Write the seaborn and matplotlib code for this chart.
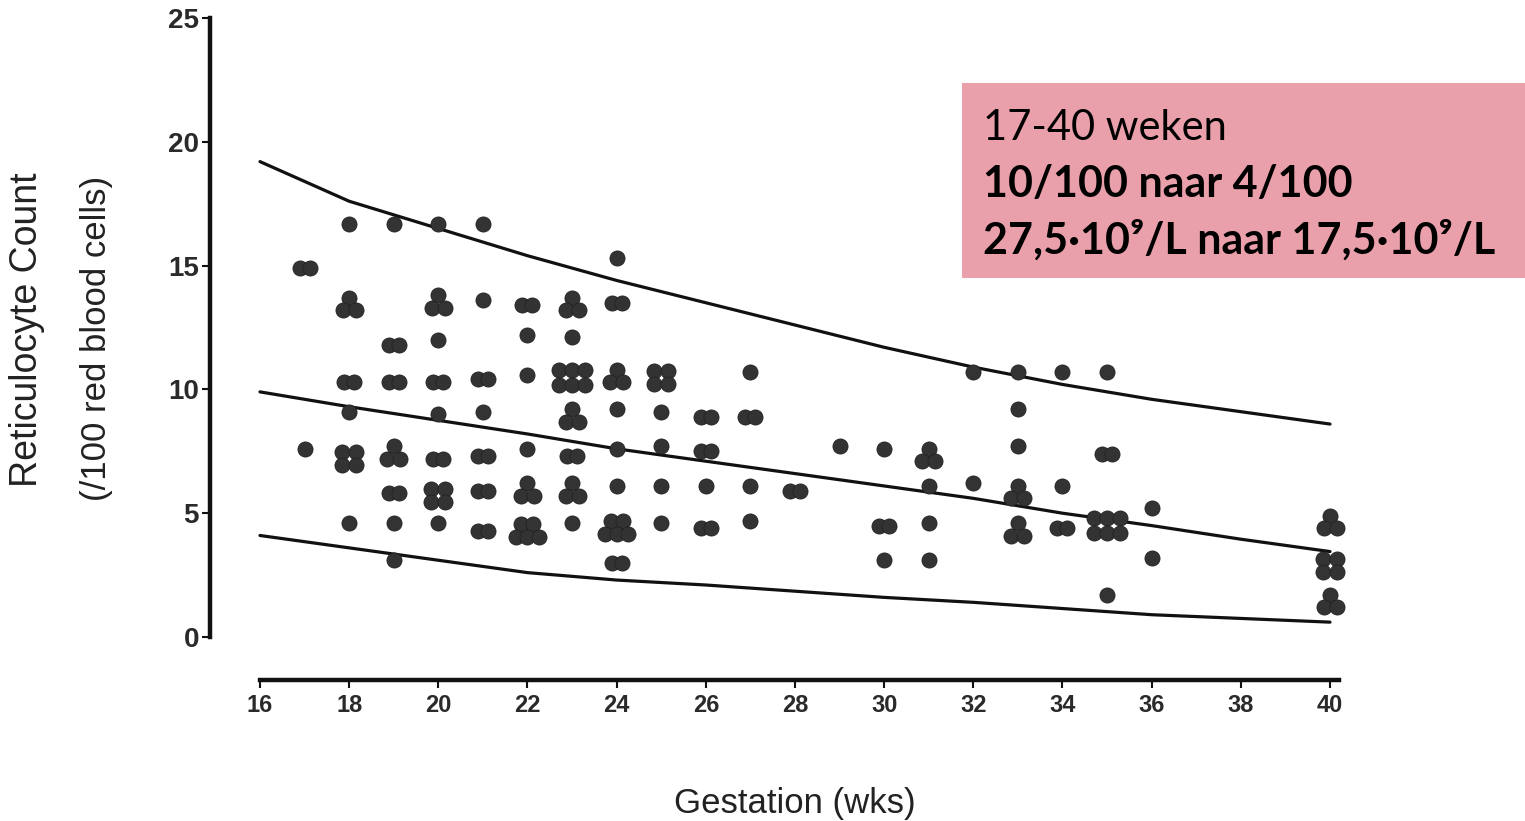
import numpy as np
import pandas as pd
import matplotlib
matplotlib.use("Agg")
import matplotlib.pyplot as plt
from matplotlib.patches import Rectangle
import seaborn as sns

# ---------------- data ----------------
# observed reticulocyte counts: gestational week, value, number of coincident observations
obs_week = [17, 17,
            18, 18, 18, 18, 18, 18,
            19, 19, 19, 19, 19, 19, 19,
            20, 20, 20, 20, 20, 20, 20, 20,
            21, 21, 21, 21, 21, 21, 21,
            22, 22, 22, 22, 22, 22,
            23, 23, 23, 23, 23, 23, 23,
            24, 24, 24, 24, 24, 24, 24, 24,
            25, 25, 25, 25, 25,
            26, 26, 26, 26,
            27, 27, 27, 27,
            28,
            29,
            30, 30, 30,
            31, 31, 31, 31,
            32, 32,
            33, 33, 33, 33, 33,
            34, 34, 34,
            35, 35, 35, 35,
            36, 36,
            40, 40, 40]
obs_value = [14.9, 7.6,
             16.7, 13.4, 10.3, 9.1, 7.2, 4.6,
             16.7, 11.8, 10.3, 7.4, 5.8, 4.6, 3.1,
             16.7, 13.5, 12.0, 10.3, 9.0, 7.2, 5.7, 4.6,
             16.7, 13.6, 10.4, 9.1, 7.3, 5.9, 4.3,
             13.4, 12.2, 10.6, 7.6, 5.9, 4.3,
             13.4, 12.1, 10.5, 8.9, 7.3, 5.9, 4.6,
             15.3, 13.5, 10.5, 9.2, 7.6, 6.1, 4.4, 3.0,
             10.5, 9.1, 7.7, 6.1, 4.6,
             8.9, 7.5, 6.1, 4.4,
             10.7, 8.9, 6.1, 4.7,
             5.9,
             7.7,
             7.6, 4.5, 3.1,
             7.3, 6.1, 4.6, 3.1,
             10.7, 6.2,
             10.7, 9.2, 7.7, 5.8, 4.3,
             10.7, 6.1, 4.4,
             10.7, 7.4, 4.5, 1.7,
             5.2, 3.2,
             4.6, 2.9, 1.4]
obs_count = [2, 1,
             1, 3, 2, 1, 4, 1,
             1, 2, 2, 3, 2, 1, 1,
             1, 3, 1, 2, 1, 2, 4, 1,
             1, 1, 2, 1, 2, 2, 2,
             2, 1, 1, 1, 3, 5,
             3, 1, 6, 3, 2, 3, 1,
             1, 2, 3, 1, 1, 1, 5, 2,
             4, 1, 1, 1, 1,
             2, 2, 1, 2,
             1, 2, 1, 1,
             2,
             1,
             1, 2, 1,
             3, 1, 1, 1,
             1, 1,
             1, 1, 1, 3, 3,
             1, 1, 2,
             1, 2, 6, 1,
             1, 1,
             3, 4, 3]

# reference curves
curve_week = [16, 18, 20, 22, 24, 26, 28, 30, 32, 34, 36, 38, 40]
upper_curve = [19.2, 17.6, 16.5, 15.4, 14.4, 13.5, 12.6, 11.7, 10.9, 10.2, 9.6, 9.1, 8.6]
mean_curve = [9.9, 9.3, 8.75, 8.2, 7.6, 7.1, 6.6, 6.1, 5.6, 5.0, 4.5, 3.95, 3.45]
lower_curve = [4.1, 3.6, 3.1, 2.6, 2.3, 2.1, 1.85, 1.6, 1.4, 1.15, 0.9, 0.75, 0.6]

x_ticks = [16, 18, 20, 22, 24, 26, 28, 30, 32, 34, 36, 38, 40]
y_ticks = [0, 5, 10, 15, 20, 25]

box_lines = ["17-40 weken", "10/100 naar 4/100", "27,5\u00b710\u2079/L naar 17,5\u00b710\u2079/L"]

# ---------------- figure ----------------
sns.set_theme(style="white")
plt.rcParams["font.family"] = ["Liberation Sans", "DejaVu Sans"]

W, H = 1525, 821
fig = plt.figure(figsize=(W / 100, H / 100), dpi=100)
fig.patch.set_facecolor("white")

ax_left, ax_right, ax_top, ax_bottom = 210, 1345, 18, 680
ax = fig.add_axes([ax_left / W, (H - ax_bottom) / H,
                   (ax_right - ax_left) / W, (ax_bottom - ax_top) / H])
ax.set_facecolor("white")
xmin = 16 - (260 - ax_left) / 44.6
xmax = 40 + (ax_right - 1330) / 44.6
ymin = -(ax_bottom - 637) / 24.76
ax.set_xlim(xmin, xmax)
ax.set_ylim(ymin, 25)

# cluster layouts (pixel offsets) for coincident observations
patterns = {
    1: [(0, 0)],
    2: [(-5, 0), (5, 0)],
    3: [(0, 7.5), (-6.5, -5), (6.5, -5)],
    4: [(-7, 6.5), (7, 6.5), (-7, -6.5), (7, -6.5)],
    5: [(-6, 7), (6, 7), (-11.5, -6), (0, -6), (11.5, -6)],
    6: [(-13, 7.5), (0, 7.5), (13, 7.5), (-13, -7.5), (0, -7.5), (13, -7.5)],
}
px_x = (ax_right - ax_left) / (xmax - xmin)
px_y = (ax_bottom - ax_top) / (25 - ymin)
xs, ys = [], []
for w, v, n in zip(obs_week, obs_value, obs_count):
    for dx, dy in patterns[n]:
        xs.append(w + dx / px_x)
        ys.append(v + dy / px_y)
pts = pd.DataFrame({"week": xs, "value": ys})

for c in (upper_curve, mean_curve, lower_curve):
    sns.lineplot(x=curve_week, y=c, ax=ax, color="#111111", linewidth=2.3, zorder=2)

sns.scatterplot(data=pts, x="week", y="value", ax=ax, s=118, color="#333333",
                edgecolor="#222222", linewidth=0.6, zorder=3)

# spines
for s in ("top", "right"):
    ax.spines[s].set_visible(False)
ax.spines["left"].set_bounds(0, 25)
ax.spines["left"].set_linewidth(3.2)
ax.spines["left"].set_color("#111111")
ax.spines["bottom"].set_bounds(16, 40.2)
ax.spines["bottom"].set_linewidth(3.2)
ax.spines["bottom"].set_color("#111111")

ax.set_xticks(x_ticks)
ax.set_xticklabels([str(t) for t in x_ticks], fontweight="bold", fontsize=17)
ax.set_yticks(y_ticks)
ax.set_yticklabels([str(t) for t in y_ticks], fontweight="bold", fontsize=20)
ax.tick_params(axis="both", which="major", direction="out", length=6, width=1.5,
               color="#111111", labelcolor="#2a2a2a", left=True, bottom=True)
ax.tick_params(axis="x", pad=4)
ax.tick_params(axis="y", pad=2)
ax.set_xlabel("")
ax.set_ylabel("")

# axis titles
fig.text(27 / W, 1 - 330 / H, "Reticulocyte Count", rotation=90, ha="center", va="center",
         fontsize=27, color="#222222")
fig.text(97 / W, 1 - 338 / H, "(/100 red blood cells)", rotation=90, ha="center", va="center",
         fontsize=25, color="#222222")
fig.text(795 / W, 1 - 803 / H, "Gestation (wks)", ha="center", va="center",
         fontsize=25, color="#222222")

# pink annotation box
fig.patches.append(Rectangle((962 / W, 1 - 278 / H), (W - 962) / W, 195 / H,
                             transform=fig.transFigure, facecolor="#EAA0AB",
                             edgecolor="none", zorder=5))
box_font = ["Lato", "DejaVu Sans"]
for i, (txt, base) in enumerate(zip(box_lines, [140, 197, 254])):
    fig.text(983 / W, 1 - base / H, txt, ha="left", va="baseline",
             fontsize=30 if i == 0 else 31,
             family=box_font, fontweight="normal" if i == 0 else "bold",
             color="black", zorder=6)

fig.savefig("out.png", dpi=100, facecolor="white")
